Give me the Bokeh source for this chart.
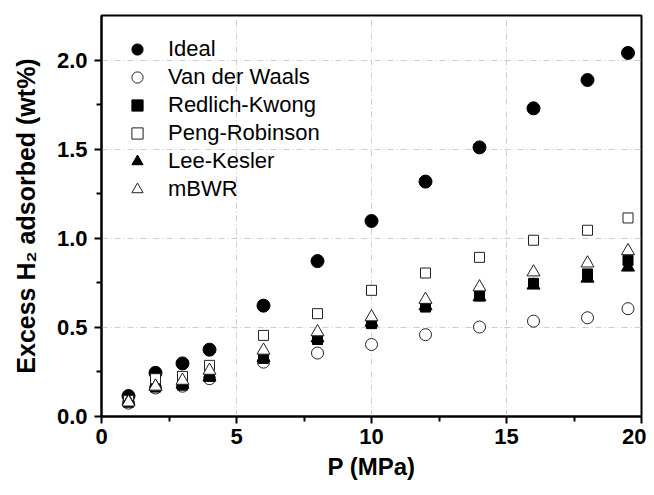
from bokeh.plotting import figure
from bokeh.models import FixedTicker, Legend, LegendItem, Range1d, NumeralTickFormatter
from bokeh.embed import file_html
from bokeh.resources import INLINE

pressure = [1, 2, 3, 4, 6, 8, 10, 12, 14, 16, 18, 19.5]
ideal = [0.115, 0.245, 0.298, 0.375, 0.622, 0.872, 1.097, 1.318, 1.51, 1.729, 1.888, 2.04]
van_der_waals = [0.075, 0.16, 0.17, 0.212, 0.305, 0.356, 0.404, 0.459, 0.502, 0.535, 0.554, 0.605]
redlich_kwong = [0.08, 0.165, 0.176, 0.225, 0.326, 0.432, 0.521, 0.614, 0.676, 0.747, 0.80, 0.876]
peng_robinson = [0.09, 0.212, 0.225, 0.287, 0.455, 0.577, 0.708, 0.805, 0.893, 0.989, 1.045, 1.114]
lee_kesler = [0.085, 0.168, 0.18, 0.22, 0.33, 0.44, 0.528, 0.62, 0.67, 0.736, 0.775, 0.837]
mbwr = [0.08, 0.169, 0.202, 0.258, 0.371, 0.474, 0.558, 0.656, 0.726, 0.81, 0.86, 0.929]

x_ticks = [0, 5, 10, 15, 20]
y_ticks = [0.0, 0.5, 1.0, 1.5, 2.0]

p = figure(width=646, height=487, output_backend="svg", toolbar_location=None,
           x_range=Range1d(0, 20), y_range=Range1d(0, 2.25),
           min_border_left=101, min_border_top=15, min_border_right=5, min_border_bottom=71)
p.frame_width = 540
p.frame_height = 401

p.outline_line_color = "black"
p.outline_line_width = 2
p.background_fill_color = "white"
p.border_fill_color = "white"

for ax in (p.xaxis[0], p.yaxis[0]):
    ax.axis_line_color = "black"
    ax.axis_line_width = 2
    ax.major_tick_line_width = 2
    ax.minor_tick_line_width = 2
    ax.major_tick_in = 0
    ax.major_tick_out = 7
    ax.minor_tick_in = 0
    ax.minor_tick_out = 5
    ax.major_label_text_font = "Liberation Sans"
    ax.major_label_text_font_style = "bold"
    ax.major_label_text_font_size = "22px"
    ax.major_label_text_color = "black"
    ax.axis_label_text_font = "Liberation Sans"
    ax.axis_label_text_font_style = "bold"
    ax.axis_label_text_color = "black"

p.xaxis.major_label_standoff = 5
p.yaxis.major_label_standoff = 7
p.xaxis.axis_label_text_font_size = "24px"
p.yaxis.axis_label_text_font_size = "25px"

p.xaxis.ticker = FixedTicker(ticks=x_ticks, minor_ticks=[2.5, 7.5, 12.5, 17.5])
p.yaxis.ticker = FixedTicker(ticks=y_ticks, minor_ticks=[0.25, 0.75, 1.25, 1.75])
p.yaxis.formatter = NumeralTickFormatter(format="0.0")
p.xaxis.axis_label = "P (MPa)"
p.yaxis.axis_label = "Excess H\u2082 adsorbed (wt%)"
p.xaxis.axis_label_standoff = 6
p.yaxis.axis_label_standoff = 14

p.grid.grid_line_color = "#cccccc"
p.grid.grid_line_width = 1
p.grid.grid_line_dash = "6 3 1 3"

r_ideal = p.scatter(pressure, ideal, marker="circle", size=13, fill_color="black", line_color="black")
r_vdw = p.scatter(pressure, van_der_waals, marker="circle", size=12, fill_color="white", line_color="#222222", line_width=1)
r_rk = p.scatter(pressure, redlich_kwong, marker="square", size=10, fill_color="black", line_color="black")
r_pr = p.scatter(pressure, peng_robinson, marker="square", size=10, fill_color="white", line_color="#222222", line_width=1)
r_lk = p.scatter(pressure, lee_kesler, marker="triangle", size=13, fill_color="black", line_color="black")
r_mbwr = p.scatter(pressure, mbwr, marker="triangle", size=13, fill_color="white", line_color="#222222", line_width=1)

legend = Legend(items=[
    LegendItem(label="Ideal", renderers=[r_ideal]),
    LegendItem(label="Van der Waals", renderers=[r_vdw]),
    LegendItem(label="Redlich-Kwong", renderers=[r_rk]),
    LegendItem(label="Peng-Robinson", renderers=[r_pr]),
    LegendItem(label="Lee-Kesler", renderers=[r_lk]),
    LegendItem(label="mBWR", renderers=[r_mbwr]),
], location=(22, 213))
legend.border_line_color = None
legend.background_fill_alpha = 0
legend.padding = 0
legend.margin = 0
legend.spacing = 0
legend.glyph_width = 28
legend.glyph_height = 28
legend.label_height = 28
legend.label_standoff = 17
legend.label_text_font = "Liberation Sans"
legend.label_text_font_size = "22px"
legend.label_text_color = "black"
p.add_layout(legend, "center")

open("out.html", "w").write(file_html(p, INLINE))
